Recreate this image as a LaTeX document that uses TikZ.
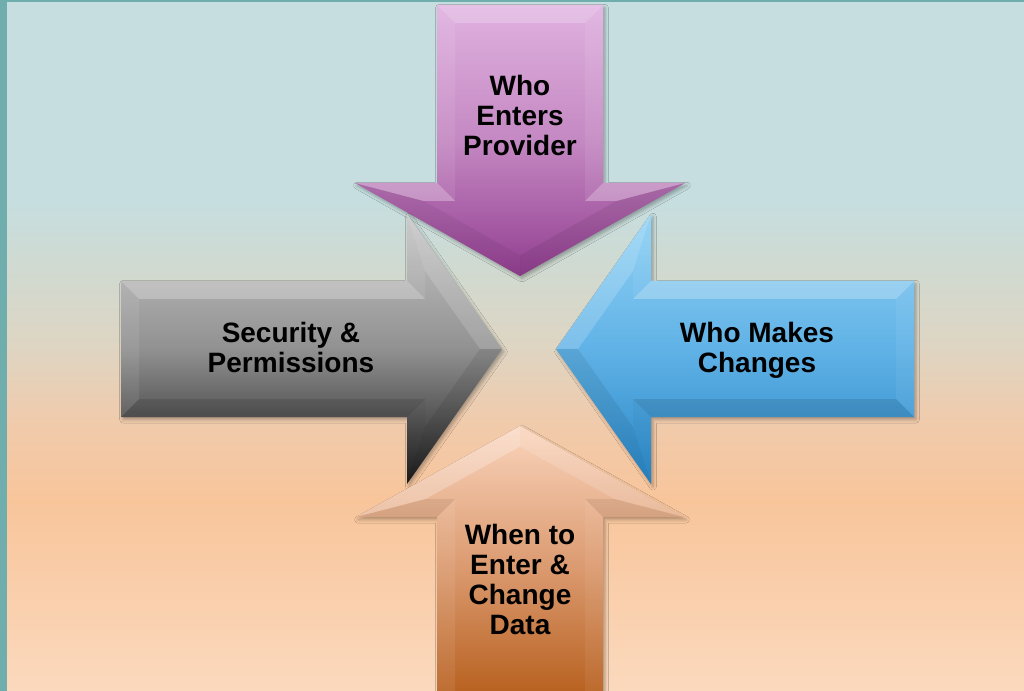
\documentclass[tikz,border=0pt]{standalone}
\usepackage{fontspec}
\setmainfont{Liberation Sans}
\usetikzlibrary{shadows.blur}

\definecolor{frameteal}{RGB}{111,174,173}
\definecolor{bgblue}{RGB}{198,222,223}
\definecolor{bggreen}{RGB}{210,217,206}
\definecolor{bgbeige}{RGB}{222,213,195}
\definecolor{bgtan}{RGB}{240,203,172}
\definecolor{bgpeach}{RGB}{248,197,155}
\definecolor{bgpeachlight}{RGB}{251,217,189}
\definecolor{purpletop}{RGB}{224,178,224}
\definecolor{purplemid}{RGB}{196,136,194}
\definecolor{purplebot}{RGB}{146,62,144}
\definecolor{graytop}{RGB}{200,200,200}
\definecolor{graymid}{RGB}{145,145,145}
\definecolor{graybot}{RGB}{26,26,26}
\definecolor{bluetop}{RGB}{146,210,245}
\definecolor{bluemid}{RGB}{96,178,230}
\definecolor{bluebot}{RGB}{40,134,198}
\definecolor{orangetop}{RGB}{250,212,188}
\definecolor{orangemid}{RGB}{220,156,114}
\definecolor{orangebot}{RGB}{182,94,28}

\pgfdeclareverticalshading{backdrop}{100bp}{color(0bp)=(bgpeachlight); color(25bp)=(bgpeachlight); color(38.8bp)=(bgpeach); color(44.6bp)=(bgtan); color(50bp)=(bgbeige); color(54.7bp)=(bggreen); color(60.5bp)=(bgblue); color(100bp)=(bgblue)}

\begin{document}
\begin{tikzpicture}[x=0.75pt, y=-0.75pt,
    caption/.style={font=\fontsize{21}{22.5}\selectfont\bfseries, align=center, inner sep=0pt},
    arrowshadow/.style={blur shadow={shadow xshift=1.5pt, shadow yshift=-2pt, shadow blur radius=2.5pt, shadow opacity=30}},
    purplearrow/.style={arrowshadow, top color=purpletop, bottom color=purplebot, middle color=purplemid},
    grayarrow/.style={arrowshadow, top color=graytop, bottom color=graybot, middle color=graymid},
    bluearrow/.style={arrowshadow, top color=bluetop, bottom color=bluebot, middle color=bluemid},
    orangearrow/.style={arrowshadow, top color=orangetop, bottom color=orangebot, middle color=orangemid}]
  \useasboundingbox (0,0) rectangle (1024,691);
  \clip (0,0) rectangle (1024,691);

  % background and frame
  \shade[shading=backdrop] (0,0) rectangle (1024,691);
  \fill[frameteal] (0,0) rectangle (7,691);
  \fill[frameteal] (0,0) rectangle (1024,2);

  % top arrow, pointing down
  \coordinate (t1) at (437,5);   \coordinate (ti1) at (455,23);
  \coordinate (t2) at (603,5);   \coordinate (ti2) at (585,23);
  \coordinate (t3) at (603,183); \coordinate (ti3) at (585,201);
  \coordinate (t4) at (685,183); \coordinate (ti4) at (616.4,201);
  \coordinate (t5) at (520,276); \coordinate (ti5) at (520,255.3);
  \coordinate (t6) at (355,183); \coordinate (ti6) at (423.6,201);
  \coordinate (t7) at (437,183); \coordinate (ti7) at (455,201);
  \shade[purplearrow] (t1) -- (t2) -- (t3) -- (t4) -- (t5) -- (t6) -- (t7) -- cycle;

  % left arrow, pointing right
  \coordinate (l1) at (121,281); \coordinate (li1) at (139,299);
  \coordinate (l2) at (407,281); \coordinate (li2) at (425,299);
  \coordinate (l3) at (407,214); \coordinate (li3) at (425,270.9);
  \coordinate (l4) at (502,349); \coordinate (li4) at (480,349);
  \coordinate (l5) at (407,484); \coordinate (li5) at (425,427.1);
  \coordinate (l6) at (407,417); \coordinate (li6) at (425,399);
  \coordinate (l7) at (121,417); \coordinate (li7) at (139,399);
  \shade[grayarrow] (l1) -- (l2) -- (l3) -- (l4) -- (l5) -- (l6) -- (l7) -- cycle;

  % right arrow, pointing left
  \coordinate (r1) at (914,281); \coordinate (ri1) at (896,299);
  \coordinate (r2) at (651,281); \coordinate (ri2) at (633,299);
  \coordinate (r3) at (651,214); \coordinate (ri3) at (633,270.9);
  \coordinate (r4) at (556,349); \coordinate (ri4) at (578,349);
  \coordinate (r5) at (651,484); \coordinate (ri5) at (633,427.1);
  \coordinate (r6) at (651,417); \coordinate (ri6) at (633,399);
  \coordinate (r7) at (914,417); \coordinate (ri7) at (896,399);
  \shade[bluearrow] (r1) -- (r2) -- (r3) -- (r4) -- (r5) -- (r6) -- (r7) -- cycle;

  % bottom arrow, pointing up
  \coordinate (b1) at (437,700); \coordinate (bi1) at (455,700);
  \coordinate (b2) at (437,517); \coordinate (bi2) at (455,499);
  \coordinate (b3) at (356,517); \coordinate (bi3) at (425.5,499);
  \coordinate (b4) at (520,426); \coordinate (bi4) at (520,446.6);
  \coordinate (b5) at (684,517); \coordinate (bi5) at (614.5,499);
  \coordinate (b6) at (603,517); \coordinate (bi6) at (585,499);
  \coordinate (b7) at (603,700); \coordinate (bi7) at (585,700);
  \shade[orangearrow] (b1) -- (b2) -- (b3) -- (b4) -- (b5) -- (b6) -- (b7) -- cycle;

  % bevel facets
  \foreach \p/\a/\b/\col/\op in {
      t/1/2/white/.2, t/2/3/white/.08, t/3/4/white/.3, t/4/5/black/.07,
      t/5/6/black/.05, t/6/7/white/.3, t/7/1/white/.08,
      l/1/2/white/.25, l/2/3/white/.08, l/3/4/white/.15, l/4/5/black/.08,
      l/5/6/black/.03, l/6/7/black/.1, l/7/1/white/.08,
      r/1/2/white/.25, r/2/3/white/.06, r/3/4/white/.18, r/4/5/black/.07,
      r/5/6/black/.03, r/6/7/black/.1, r/7/1/white/.06,
      b/1/2/white/.08, b/2/3/black/.07, b/3/4/white/.25, b/4/5/white/.15,
      b/5/6/black/.07, b/6/7/white/.06}
    \fill[\col, fill opacity=\op] (\p\a) -- (\p\b) -- (\p i\b) -- (\p i\a) -- cycle;

  % labels
  \node[caption] (enters) at (520,115) {Who\\Enters\\Provider};
  \node[caption] (security) at (291,347) {Security \&\\Permissions};
  \node[caption] (makes) at (757,350) {Who Makes\\Changes};
  \node[caption] (when) at (520,579) {When to\\Enter \&\\Change\\Data};
\end{tikzpicture}
\end{document}
